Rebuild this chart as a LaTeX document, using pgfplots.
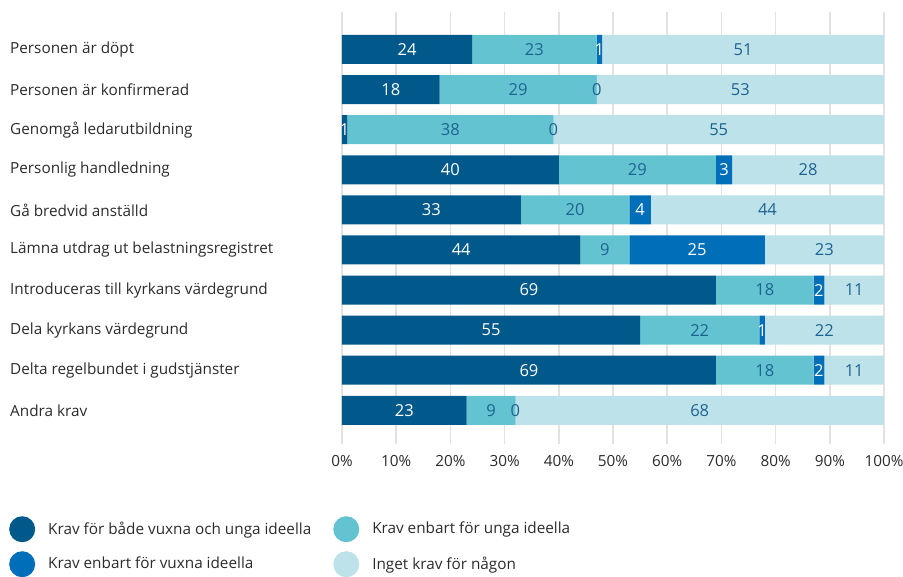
\documentclass[border=0pt]{standalone}
\usepackage{fontspec}
\setmainfont{Open Sans}
\usepackage{pgfplots}
\usepackage{pgfplotstable}
\pgfplotsset{compat=1.18}

\definecolor{cDark}{HTML}{00598A}
\definecolor{cCyan}{HTML}{64C3D1}
\definecolor{cBlue}{HTML}{006EB8}
\definecolor{cLight}{HTML}{BDE2EA}
\definecolor{cLbl}{HTML}{1D6391}
\definecolor{cTxt}{HTML}{2B2B2B}
\definecolor{cGrid}{HTML}{E2E2E2}

% row, plotted lengths (a,b,c,d) and printed values (cl, dl)
\pgfplotstableread{
row a  b  c    cl d     dl
0   24 23 1    1  52    51
1   18 29 0.01 0  52.99 53
2   1  38 0.01 0  60.99 55
3   40 29 3    3  28    28
4   33 20 4    4  43    44
5   44 9  25   25 22    23
6   69 18 2    2  11    11
7   55 22 1    1  22    22
8   69 18 2    2  11    11
9   23 9  0.01 0  67.99 68
}\data

\begin{document}
\fontsize{15pt}{18pt}\selectfont
\begin{tikzpicture}
\begin{axis}[
  name=ax,
  scale only axis,
  width=542pt, height=432pt,
  xbar stacked, bar width=29pt,
  xmin=0, xmax=100,
  ymin=-0.935, ymax=9.84, y dir=reverse,
  xtick={0,10,...,100},
  xticklabel={\pgfmathprintnumber{\tick}\%},
  xmajorgrids, grid style={cGrid, line width=1.5pt},
  ytick={0,...,9},
  yticklabels={Personen är döpt, Personen är konfirmerad, Genomgå ledarutbildning,
    Personlig handledning, Gå bredvid anställd, Lämna utdrag ut belastningsregistret,
    Introduceras till kyrkans värdegrund, Dela kyrkans värdegrund,
    Delta regelbundet i gudstjänster, Andra krav},
  yticklabel style={anchor=west, xshift=-337pt, font=\fontsize{15.3pt}{18pt}\selectfont, text=cTxt},
  xticklabel style={font=\fontsize{15.3pt}{18pt}\selectfont, text=cTxt, yshift=-6pt},
  /pgf/number format/assume math mode=true,
  axis line style={draw=none}, tick style={draw=none},
  point meta=explicit symbolic,
  nodes near coords={\ifdim\segval pt<0.5pt\color{cLbl}\fi\pgfplotspointmeta},
  every node near coord/.append style={anchor=center, font=\fontsize{16.5pt}{18pt}\selectfont},
  legend columns=2,
  legend cell align=left,
  legend image code/.code={\fill[#1] (13pt,0pt) circle (13pt);},
  legend style={at={(axis description cs:-0.6144,-0.1667)}, anchor=north west,
    draw=none, fill=none, inner sep=0pt, font=\fontsize{15.3pt}{18pt}\selectfont,
    text=cTxt, row sep=9pt,
    /tikz/every odd column/.append style={column sep=11pt},
    /tikz/every even column/.append style={column sep=20pt}},
]
\addplot[fill=cDark, draw=none, visualization depends on={\thisrow{a} \as \segval},
  every node near coord/.append style={text=white}]
  table[x=a, y=row, meta=a] {\data};
\addplot[fill=cCyan, draw=none, visualization depends on={\thisrow{b} \as \segval},
  every node near coord/.append style={text=cLbl}]
  table[x=b, y=row, meta=b] {\data};
\addplot[fill=cBlue, draw=none, visualization depends on={\thisrow{c} \as \segval},
  every node near coord/.append style={text=white}]
  table[x=c, y=row, meta=cl] {\data};
\addplot[fill=cLight, draw=none, visualization depends on={\thisrow{d} \as \segval},
  every node near coord/.append style={text=cLbl}]
  table[x=d, y=row, meta=dl] {\data};
\legend{Krav för både vuxna och unga ideella, Krav enbart för unga ideella,
  Krav enbart för vuxna ideella, Inget krav för någon}
\end{axis}
\pgfresetboundingbox
\path ([xshift=-342pt,yshift=444pt]ax.south west) rectangle ([xshift=561pt,yshift=-133pt]ax.south west);
\end{tikzpicture}
\end{document}
